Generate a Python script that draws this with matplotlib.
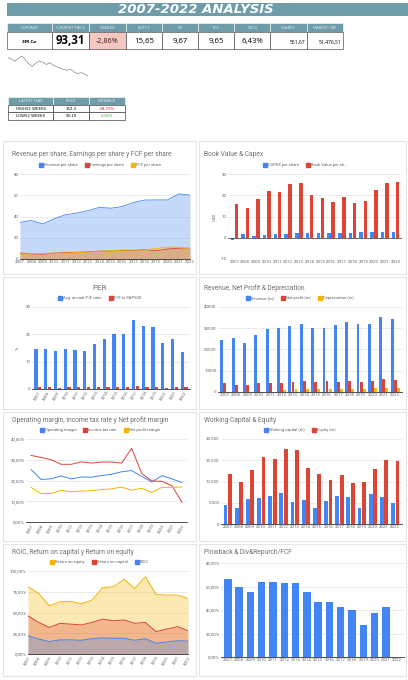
import matplotlib
matplotlib.use('Agg')
import matplotlib.pyplot as plt
import numpy as np
from matplotlib.patches import Rectangle
from matplotlib.ticker import FuncFormatter
from matplotlib.lines import Line2D

# ---------------- data ----------------
years = [str(y) for y in range(2007, 2023)]

rev_ps = [34.5, 36.3, 33.0, 37.8, 41.6, 43.2, 45.5, 48.6, 47.8, 49.3, 53.2, 55.5, 55.6, 55.6, 61.2, 60.2]
eps_ps = [5.6, 4.9, 4.5, 5.6, 6.0, 6.3, 6.7, 7.5, 7.6, 8.2, 7.9, 8.9, 7.8, 9.4, 10.1, 10.2]
fcf_ps = [4.6, 5.0, 5.4, 5.5, 5.4, 6.0, 6.3, 7.4, 7.9, 8.4, 8.4, 8.5, 9.8, 11.3, 10.8, 9.6]

capex_ps = [-1.2, 2.0, 1.0, 1.3, 1.8, 2.0, 2.3, 2.1, 2.1, 2.1, 2.1, 2.4, 2.8, 2.5, 2.6, 2.9]
book_ps = [16.0, 14.0, 18.2, 21.8, 21.7, 25.3, 25.6, 20.1, 18.5, 17.0, 19.2, 16.5, 17.4, 22.3, 25.9, 26.2]

pe_avg = [14.7, 14.5, 14.0, 14.5, 14.3, 13.9, 16.6, 18.4, 20.1, 20.0, 25.2, 23.1, 22.6, 17.0, 18.3, 13.5]
pe_sp = [0.7, 0.6, 0.3, 0.7, 0.8, 0.8, 0.9, 0.9, 0.9, 0.9, 1.0, 0.9, 0.9, 0.4, 0.6, 0.6]

revenue = [24462, 25269, 23123, 26662, 29611, 29904, 30871, 31821, 30274, 30109, 31657, 32765, 32136, 32184, 35355, 34229]
net_profit = [4096, 3460, 3193, 4085, 4283, 4444, 4659, 4956, 4833, 5050, 4858, 5349, 4570, 5384, 5921, 5777]
depreciation = [0, 0, 0, 0, 0, 1100, 1200, 1300, 1400, 1500, 1500, 1500, 1600, 1900, 1900, 1800]

op_margin = [25.3, 20.5, 20.8, 22.2, 20.8, 21.7, 21.6, 22.4, 23.0, 24.2, 24.8, 22.0, 19.3, 22.3, 20.8, 19.0]
tax_rate = [32.1, 31.1, 30.0, 27.8, 27.8, 29.0, 28.4, 28.9, 28.9, 28.4, 35.5, 23.4, 19.8, 19.6, 17.5, 9.5]
net_margin = [16.7, 13.7, 13.8, 15.3, 14.5, 14.9, 15.1, 15.6, 16.0, 16.8, 15.3, 16.3, 14.2, 16.7, 16.7, 16.9]

working_cap = [4400, 3700, 5900, 6100, 6700, 7400, 5100, 5700, 3800, 5400, 6500, 6400, 3700, 7000, 6300, 5000]
equity = [11700, 9800, 12800, 15700, 15400, 17600, 17500, 13100, 11700, 10300, 11600, 9700, 10000, 12900, 15100, 14800]

roe = [81, 73, 58, 63, 63.5, 60.5, 65, 80, 81, 90, 79, 93, 72, 71, 71, 67]
roc = [46, 38, 32, 37, 36, 35, 38, 42, 40, 41, 37, 38, 27, 30, 33, 28]
roic = [22, 18, 15, 17, 17, 16.5, 18.5, 19.5, 19, 19, 16.5, 18.5, 13, 14.5, 16, 15.5]

plowback = [66.4, 59.6, 55.3, 63.5, 63.8, 63.3, 63.0, 55.3, 47.0, 47.0, 42.5, 40.3, 27.5, 37.2, 42.5, np.nan]

price_spark = [178, 174, 168, 176, 183, 172, 160, 152, 162, 168, 165, 158, 163, 156, 151, 147, 143, 141, 144, 136, 131, 134, 130, 124]

hdr_labels = ["COMPANY", "CURRENT PRICE", "CHANGE", "EV/FCF", "P/E", "EPS", "YIELD", "SHARES", "MARKET CAP"]
hdr_values = ["3M Co", "93,31", "-2,86%", "15,65", "9,67", "9,65", "6,43%", "551,67", "51.476,51"]

t2_header = ["LATEST YEAR", "PRICE", "DISTANCE"]
t2_rows = [["HIGH52 WEEKS", "152,3", "-38,79%"], ["LOW52 WEEKS", "93,19", "0,18%"]]

# ---------------- style ----------------
BLUE = '#4285F4'
RED = '#DB4437'
YEL = '#F4B400'
TEAL = '#6E9DA9'
GRID = '#E3E3E3'
TXT = '#5F6368'
FONT = 'Roboto'

W, H = 408, 680
fig = plt.figure(figsize=(W / 100, H / 100), dpi=100)
fig.patch.set_facecolor('white')

bg = fig.add_axes([0, 0, 1, 1])
bg.set_xlim(0, W)
bg.set_ylim(H, 0)
bg.axis('off')


def ax_px(x0, y0, x1, y1):
    a = fig.add_axes([x0 / W, 1 - y1 / H, (x1 - x0) / W, (y1 - y0) / H])
    a.set_facecolor('none')
    return a


# banner
bg.add_patch(Rectangle((7, 3), 401, 13, facecolor=TEAL, edgecolor='none'))
bg.text(196, 9.7, "2007-2022 ANALYSIS", color='white', fontsize=9.5, fontweight='bold',
        fontstyle='italic', ha='center', va='center', family='DejaVu Sans')

# header table
col_edges = [7, 52, 89, 126, 162, 198, 234, 270, 307, 343]
for i, (lab, val) in enumerate(zip(hdr_labels, hdr_values)):
    x0, x1 = col_edges[i], col_edges[i + 1]
    bg.add_patch(Rectangle((x0, 23), x1 - x0, 9, facecolor=TEAL, edgecolor='white', lw=0.4))
    bg.text((x0 + x1) / 2, 27.6, lab, color='#DDEBEE', fontsize=2.6, ha='center', va='center', family='DejaVu Sans')
    fc = '#F4C7C3' if i == 2 else 'white'
    bg.add_patch(Rectangle((x0, 32), x1 - x0, 17, facecolor=fc, edgecolor='#555555', lw=0.5))
    if i == 0:
        bg.text((x0 + x1) / 2, 42, val, fontsize=3, ha='center', va='center', fontweight='bold', family='DejaVu Sans')
    elif i == 1:
        bg.text((x0 + x1) / 2, 40.5, val, fontsize=8.3, ha='center', va='center', fontweight='bold', family='Open Sans')
    elif i == 2:
        bg.text((x0 + x1) / 2, 41.5, val, fontsize=5.2, ha='center', va='center', color='#3a1a1a', family='Open Sans')
    elif i >= 7:
        bg.text(x1 - 2, 42, val, fontsize=3.6, ha='right', va='center', family='Open Sans')
    else:
        bg.text((x0 + x1) / 2, 41.5, val, fontsize=5.6, ha='center', va='center', family='Open Sans')

# sparkline
sp = ax_px(8, 55, 88, 77)
sp.plot(range(len(price_spark)), price_spark, color='#888888', lw=0.5)
sp.axis('off')
sp.margins(0, 0.05)

# small table
c2 = [8, 53, 89, 125]
for i, lab in enumerate(t2_header):
    bg.add_patch(Rectangle((c2[i], 97), c2[i + 1] - c2[i], 7.5, facecolor=TEAL, edgecolor='white', lw=0.4))
    bg.text((c2[i] + c2[i + 1]) / 2, 100.8, lab, color='#DDEBEE', fontsize=2.6, ha='center', va='center', family='DejaVu Sans')
for r, row in enumerate(t2_rows):
    y0 = 104.5 + r * 7.8
    for i, v in enumerate(row):
        bg.add_patch(Rectangle((c2[i], y0), c2[i + 1] - c2[i], 7.8, facecolor='white', edgecolor='#444444', lw=0.5))
        col = 'black'
        if i == 2:
            col = '#D0112B' if v.startswith('-') else '#4CA64C'
        bg.text((c2[i] + c2[i + 1]) / 2, y0 + 4, v, fontsize=2.8, ha='center', va='center', color=col, family='DejaVu Sans')

# cards
for (x0, x1) in [(3, 196), (199, 406)]:
    for (y0, y1) in [(141, 274), (277, 409), (412, 541), (544, 676)]:
        bg.add_patch(Rectangle((x0, y0), x1 - x0, y1 - y0, facecolor='white', edgecolor='#E4E4E4', lw=0.8))


def style(ax, ymin, ymax, step, fmt, rot=0, xlabels=years, pad=1):
    ax.set_ylim(ymin, ymax)
    ax.set_yticks(np.arange(ymin, ymax + step / 2, step))
    ax.yaxis.set_major_formatter(FuncFormatter(fmt))
    ax.grid(axis='y', color=GRID, lw=0.5)
    ax.set_axisbelow(True)
    for s in ['top', 'right', 'left']:
        ax.spines[s].set_visible(False)
    ax.spines['bottom'].set_color('#333333')
    ax.spines['bottom'].set_linewidth(0.6)
    ax.tick_params(length=0, labelsize=3.2, colors=TXT, pad=pad)
    for lbl in ax.get_xticklabels() + ax.get_yticklabels():
        lbl.set_family(FONT)
    if rot:
        for lbl in ax.get_xticklabels():
            lbl.set_rotation(rot)
            lbl.set_ha('right')
            lbl.set_rotation_mode('anchor')


def title(x, y, s, ha='left', size=4.8):
    bg.text(x, y, s, fontsize=size, color='#707070', ha=ha, va='center', family=FONT)


def legend(cx, cy, items):
    handles = [Line2D([0], [0], marker='s', color='none', markerfacecolor=c, markeredgecolor=c, markersize=2.6)
               for _, c in items]
    fig.legend(handles, [t for t, _ in items], loc='center', bbox_to_anchor=(cx / W, 1 - cy / H),
               ncol=len(items), frameon=False, prop={'family': FONT, 'size': 3.0},
               handlelength=0.8, handletextpad=0.3, columnspacing=1.8, labelcolor=TXT)


x = np.arange(16)

# ---- chart 1: revenue per share (area)
a1 = ax_px(20, 174, 190, 259)
for vals, c in [(rev_ps, BLUE), (eps_ps, RED), (fcf_ps, YEL)]:
    a1.fill_between(x, 0, vals, color=c, alpha=0.3, lw=0)
    a1.plot(x, vals, color=c, lw=0.6)
a1.set_xlim(0, 15)
a1.set_xticks(x)
a1.set_xticklabels(years)
style(a1, 0, 80, 20, lambda v, p: f"{v:.0f}")
title(12, 155, "Revenue per share, Earnings per share y FCF per share")
legend(100, 165, [("Revenue per share", BLUE), ("Earnings per share", RED), ("FCF per share", YEL)])

# ---- chart 2: book value & capex (bars)
a2 = ax_px(228, 174, 402, 259)
bw = 0.33
a2.bar(x - bw / 2 - 0.03, capex_ps, bw, color=BLUE)
a2.bar(x + bw / 2 + 0.03, book_ps, bw, color=RED)
a2.set_xlim(-0.6, 15.6)
a2.set_xticks(x)
a2.set_xticklabels(years)
style(a2, -10, 30, 10, lambda v, p: f"{v:.0f}")
a2.axhline(0, color='#333333', lw=0.5)
a2.spines['bottom'].set_visible(False)
a2.set_ylabel("USD", fontsize=3.2, color=TXT, family=FONT, labelpad=3)
title(204, 155, "Book Value & Capex")
legend(305, 165, [("CAPEX per share", BLUE), ("Book Value per sh...", RED)])

# ---- chart 3: PER
a3 = ax_px(32, 307, 190, 389)
bw = 0.34
a3.bar(x - bw / 2 - 0.02, pe_avg, bw, color=BLUE)
a3.bar(x + bw / 2 + 0.02, pe_sp, bw, color=RED)
a3.set_xlim(-0.6, 15.6)
a3.set_xticks(x)
a3.set_xticklabels(years)
style(a3, 0, 30, 10, lambda v, p: f"{v:.0f}", rot=60)
a3.set_ylabel("%", fontsize=3.2, color=TXT, family=FONT, labelpad=4)
title(100, 288, "PER", ha='center', size=5.8)
legend(100, 298, [("Avg. annual P/E ratio", BLUE), ("P/E to S&P500", RED)])

# ---- chart 4: revenue, net profit, depreciation
a4 = ax_px(218, 307, 402, 392)
bw = 0.25
a4.bar(x - bw - 0.02, revenue, bw, color=BLUE)
a4.bar(x, net_profit, bw, color=RED)
a4.bar(x + bw + 0.02, depreciation, bw, color=YEL)
a4.set_xlim(-0.6, 15.6)
a4.set_xticks(x)
a4.set_xticklabels(years)
style(a4, 0, 40000, 10000, lambda v, p: f"{v:.0f}")
title(204, 288, "Revenue, Net Profit & Depreciation")
legend(300, 298, [("Revenue (m)", BLUE), ("Net profit (m)", RED), ("Depreciation (m)", YEL)])

# ---- chart 5: margins (lines)
a5 = ax_px(26, 439, 187, 522)
a5.plot(x, op_margin, color=BLUE, lw=0.7)
a5.plot(x, tax_rate, color=RED, lw=0.7)
a5.plot(x, net_margin, color=YEL, lw=0.7)
a5.set_xlim(-0.5, 15.5)
a5.set_xticks(x)
a5.set_xticklabels(years)
style(a5, 0, 40, 10, lambda v, p: f"{v:.2f}%".replace('.', ','), rot=60)
title(12, 420, "Operating margin, Income tax rate y Net profit margin")
legend(100, 430, [("Operating margin", BLUE), ("Income tax rate", RED), ("Net profit margin", YEL)])

# ---- chart 6: working capital & equity
a6 = ax_px(221, 439, 402, 524)
bw = 0.34
a6.bar(x - bw / 2 - 0.03, working_cap, bw, color=BLUE)
a6.bar(x + bw / 2 + 0.03, equity, bw, color=RED)
a6.set_xlim(-0.6, 15.6)
a6.set_xticks(x)
a6.set_xticklabels(years)
style(a6, 0, 20000, 5000, lambda v, p: f"{v:,.0f}".replace(',', '.'))
title(204, 420, "Working Capital & Equity")
legend(300, 430, [("Working capital (m)", BLUE), ("Equity (m)", RED)])

# ---- chart 7: ROIC / ROC / ROE areas
a7 = ax_px(28, 571, 188, 654)
for vals, c in [(roe, YEL), (roc, RED), (roic, BLUE)]:
    a7.fill_between(x, 0, vals, color=c, alpha=0.3, lw=0)
    a7.plot(x, vals, color=c, lw=0.7)
a7.set_xlim(0, 15)
a7.set_xticks(x)
a7.set_xticklabels(years)
style(a7, 0, 100, 25, lambda v, p: f"{v:.2f}%".replace('.', ','), rot=60)
title(12, 552, "ROIC, Return on capital y Return on equity")
legend(100, 562, [("Return on equity", YEL), ("Return on capital", RED), ("ROIC", BLUE)])

# ---- chart 8: plowback
a8 = ax_px(221, 563, 404, 657)
a8.bar(x, plowback, 0.66, color=BLUE)
a8.set_xlim(-0.6, 15.6)
a8.set_xticks(x)
a8.set_xticklabels(years)
style(a8, 0, 80, 20, lambda v, p: f"{v:.2f}%".replace('.', ','))
title(204, 552, "Plowback & Div&Repurch/FCF")

fig.savefig('out.png', dpi=100, facecolor='white')
